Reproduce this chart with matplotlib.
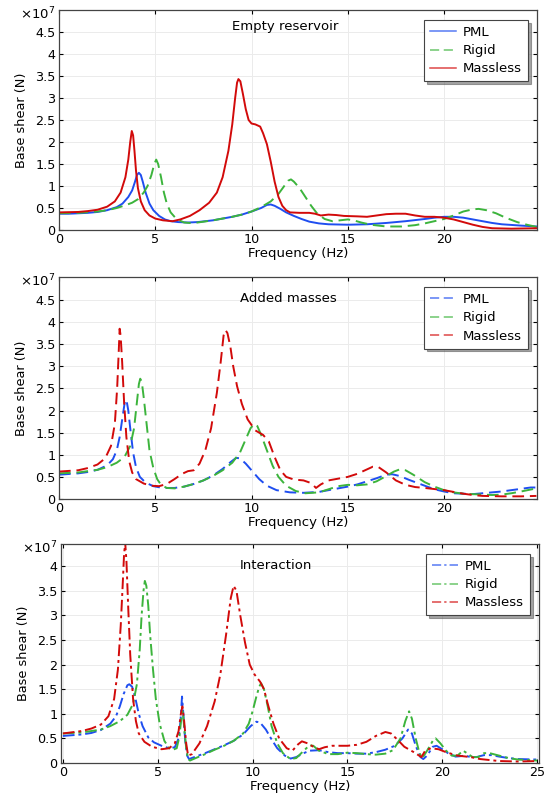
import matplotlib
matplotlib.use("Agg")
import matplotlib.pyplot as plt

plt.rcParams['font.family'] = ['DejaVu Sans']

# ---------------- data (units of 1e7 N) ----------------
# Panel 1: Empty reservoir
e_pml_f = [0, 0.5, 1, 1.5, 2, 2.5, 3, 3.3, 3.6, 3.8, 3.95, 4.05, 4.15, 4.25, 4.35, 4.5, 4.7, 4.9, 5.2, 5.5, 5.8, 6.2, 6.7, 7.2, 8, 9, 9.5, 10, 10.5, 10.8, 11, 11.2, 11.5, 11.8, 12.2, 12.6, 13, 13.5, 14, 15, 16, 17, 18, 19, 19.5, 20, 20.5, 21, 21.5, 22, 22.5, 23, 24, 24.8]
e_pml_v = [0.37, 0.37, 0.38, 0.39, 0.41, 0.45, 0.52, 0.6, 0.75, 0.9, 1.1, 1.25, 1.3, 1.25, 1.1, 0.85, 0.6, 0.45, 0.32, 0.24, 0.2, 0.18, 0.17, 0.18, 0.22, 0.3, 0.35, 0.42, 0.5, 0.57, 0.58, 0.55, 0.48, 0.4, 0.32, 0.25, 0.19, 0.15, 0.13, 0.12, 0.13, 0.16, 0.2, 0.25, 0.28, 0.3, 0.3, 0.28, 0.24, 0.2, 0.16, 0.13, 0.1, 0.08]
e_rig_f = [0, 1, 2, 2.5, 3, 3.5, 3.8, 4.1, 4.4, 4.6, 4.8, 4.95, 5.05, 5.15, 5.3, 5.45, 5.6, 5.8, 6.1, 6.5, 6.8, 7.2, 8, 9, 9.5, 10, 10.5, 11, 11.4, 11.7, 11.9, 12.05, 12.2, 12.5, 12.8, 13.1, 13.4, 13.8, 14.2, 14.6, 15, 15.3, 15.7, 16.2, 17, 17.8, 18.5, 19, 19.5, 20, 20.5, 21, 21.5, 21.8, 22.2, 22.7, 23.2, 23.8, 24.3, 24.8]
e_rig_v = [0.38, 0.39, 0.42, 0.45, 0.5, 0.57, 0.62, 0.7, 0.85, 1.0, 1.25, 1.5, 1.6, 1.5, 1.2, 0.85, 0.6, 0.4, 0.25, 0.17, 0.16, 0.17, 0.22, 0.3, 0.35, 0.42, 0.52, 0.65, 0.82, 1.0, 1.12, 1.15, 1.1, 0.95, 0.75, 0.55, 0.38, 0.25, 0.2, 0.22, 0.24, 0.22, 0.17, 0.12, 0.08, 0.08, 0.11, 0.15, 0.2, 0.25, 0.33, 0.42, 0.47, 0.48, 0.45, 0.38, 0.28, 0.18, 0.12, 0.07]
e_mas_f = [0, 1, 1.5, 2, 2.5, 2.9, 3.2, 3.45, 3.6, 3.7, 3.78, 3.85, 3.92, 4.0, 4.1, 4.25, 4.45, 4.7, 5.0, 5.4, 5.9, 6.3, 6.8, 7.3, 7.8, 8.2, 8.5, 8.8, 9.0, 9.15, 9.25, 9.32, 9.42, 9.55, 9.7, 9.85, 10.0, 10.2, 10.45, 10.6, 10.8, 11.0, 11.2, 11.4, 11.6, 11.8, 12.0, 12.5, 13, 13.3, 13.6, 14.0, 14.4, 14.8, 15.5, 16, 16.5, 17, 17.5, 18, 18.5, 19, 19.5, 20, 20.5, 21, 21.5, 22, 22.5, 23.5, 24.8]
e_mas_v = [0.4, 0.41, 0.43, 0.46, 0.53, 0.65, 0.85, 1.2, 1.6, 2.0, 2.25, 2.15, 1.8, 1.35, 0.95, 0.65, 0.45, 0.33, 0.26, 0.22, 0.2, 0.24, 0.32, 0.45, 0.62, 0.85, 1.2, 1.8, 2.4, 3.0, 3.35, 3.43, 3.38, 3.1, 2.75, 2.5, 2.42, 2.4, 2.35, 2.2, 1.95, 1.55, 1.1, 0.75, 0.55, 0.45, 0.4, 0.39, 0.39, 0.37, 0.33, 0.35, 0.34, 0.32, 0.31, 0.3, 0.33, 0.36, 0.37, 0.37, 0.33, 0.3, 0.3, 0.28, 0.24, 0.18, 0.12, 0.07, 0.04, 0.03, 0.04]

# Panel 2: Added masses
a_pml_f = [0, 1, 1.5, 2, 2.5, 2.8, 3.0, 3.15, 3.3, 3.42, 3.5, 3.6, 3.7, 3.85, 4.0, 4.2, 4.5, 4.9, 5.4, 6, 6.5, 7, 7.5, 8, 8.5, 8.9, 9.2, 9.4, 9.7, 10, 10.4, 10.8, 11.3, 12, 12.7, 13.5, 14, 15, 15.5, 16, 16.5, 17, 17.3, 17.7, 18.2, 19, 19.5, 20, 20.5, 21, 21.5, 22, 23, 24, 24.5, 24.8]
a_pml_v = [0.55, 0.58, 0.61, 0.66, 0.76, 0.9, 1.1, 1.4, 1.85, 2.2, 2.25, 2.0, 1.6, 1.05, 0.72, 0.5, 0.37, 0.29, 0.25, 0.25, 0.28, 0.34, 0.42, 0.53, 0.68, 0.83, 0.93, 0.92, 0.8, 0.65, 0.45, 0.3, 0.2, 0.15, 0.14, 0.16, 0.2, 0.28, 0.33, 0.4, 0.47, 0.55, 0.56, 0.52, 0.43, 0.3, 0.22, 0.17, 0.13, 0.12, 0.11, 0.13, 0.17, 0.23, 0.26, 0.26]
a_rig_f = [0, 1, 2, 2.5, 3, 3.4, 3.7, 3.9, 4.05, 4.15, 4.22, 4.3, 4.4, 4.55, 4.7, 4.9, 5.1, 5.3, 5.6, 6, 6.5, 7, 7.5, 8, 8.5, 9, 9.4, 9.7, 9.95, 10.15, 10.3, 10.5, 10.8, 11.1, 11.4, 11.8, 12.3, 12.8, 13.5, 14, 14.5, 15, 15.5, 16, 16.5, 17, 17.4, 17.7, 18, 18.4, 19, 19.5, 20, 20.5, 21, 22, 22.5, 23, 23.5, 24, 24.8]
a_rig_v = [0.58, 0.6, 0.66, 0.72, 0.82, 0.95, 1.2, 1.6, 2.2, 2.6, 2.72, 2.65, 2.3, 1.7, 1.1, 0.7, 0.45, 0.32, 0.25, 0.24, 0.28, 0.34, 0.42, 0.52, 0.65, 0.82, 1.05, 1.35, 1.6, 1.7, 1.65, 1.45, 1.1, 0.75, 0.5, 0.3, 0.18, 0.13, 0.15, 0.22, 0.29, 0.32, 0.31, 0.33, 0.4, 0.52, 0.62, 0.67, 0.65, 0.55, 0.38, 0.28, 0.2, 0.15, 0.12, 0.1, 0.09, 0.1, 0.13, 0.17, 0.24]
a_mas_f = [0, 1, 1.5, 2, 2.4, 2.7, 2.9, 3.02, 3.1, 3.15, 3.2, 3.28, 3.38, 3.5, 3.65, 3.8, 4, 4.4, 4.8, 5.2, 5.6, 6, 6.4, 6.7, 7, 7.3, 7.6, 7.9, 8.2, 8.4, 8.55, 8.65, 8.75, 8.9, 9.05, 9.25, 9.5, 9.8, 10.2, 10.6, 10.9, 11.2, 11.5, 11.8, 12.2, 12.7, 13.1, 13.35, 13.6, 14, 14.5, 15, 15.5, 16, 16.3, 16.6, 17, 17.5, 18, 18.5, 19, 20, 20.5, 21, 21.5, 22, 23, 24, 24.8]
a_mas_v = [0.62, 0.65, 0.7, 0.78, 0.92, 1.2, 1.7, 2.5, 3.3, 3.85, 3.7, 3.1, 2.2, 1.4, 0.85, 0.6, 0.45, 0.35, 0.3, 0.29, 0.34, 0.45, 0.57, 0.63, 0.65, 0.8, 1.1, 1.6, 2.4, 3.1, 3.7, 3.82, 3.75, 3.45, 3.0, 2.55, 2.15, 1.8, 1.55, 1.45, 1.3, 0.95, 0.65, 0.5, 0.44, 0.42, 0.36, 0.25, 0.33, 0.42, 0.46, 0.5, 0.57, 0.67, 0.73, 0.72, 0.6, 0.42, 0.32, 0.27, 0.25, 0.2, 0.16, 0.12, 0.09, 0.07, 0.06, 0.06, 0.07]

# Panel 3: Interaction
i_pml_f = [0, 1, 1.5, 2, 2.5, 2.8, 3.0, 3.2, 3.4, 3.5, 3.65, 3.8, 4.0, 4.2, 4.5, 4.8, 5.2, 5.6, 5.9, 6.1, 6.2, 6.28, 6.35, 6.45, 6.55, 6.65, 7, 7.5, 8, 8.5, 9, 9.5, 9.9, 10.2, 10.4, 10.7, 11, 11.3, 11.7, 12, 12.3, 12.7, 13, 13.5, 14, 14.5, 15, 15.5, 16, 16.5, 17, 17.5, 17.9, 18.2, 18.4, 18.6, 18.85, 19.0, 19.2, 19.5, 19.7, 20, 20.3, 20.7, 21, 21.2, 21.5, 21.8, 22.2, 22.6, 23, 23.5, 24, 25]
i_pml_v = [0.55, 0.58, 0.61, 0.67, 0.8, 0.95, 1.15, 1.4, 1.58, 1.6, 1.55, 1.35, 1.0, 0.75, 0.52, 0.42, 0.35, 0.3, 0.32, 0.5, 0.85, 1.35, 1.0, 0.45, 0.15, 0.08, 0.13, 0.2, 0.28, 0.36, 0.45, 0.58, 0.75, 0.84, 0.82, 0.68, 0.48, 0.3, 0.15, 0.09, 0.12, 0.2, 0.25, 0.26, 0.22, 0.2, 0.2, 0.19, 0.19, 0.22, 0.27, 0.35, 0.5, 0.68, 0.6, 0.35, 0.12, 0.08, 0.15, 0.33, 0.35, 0.28, 0.2, 0.13, 0.14, 0.15, 0.12, 0.12, 0.16, 0.16, 0.13, 0.1, 0.08, 0.07]
i_rig_f = [0, 1, 2, 2.5, 3, 3.4, 3.7, 3.9, 4.05, 4.15, 4.25, 4.32, 4.4, 4.5, 4.6, 4.75, 4.9, 5.1, 5.35, 5.6, 5.8, 6.0, 6.15, 6.25, 6.32, 6.4, 6.5, 6.6, 6.7, 7, 7.5, 8, 8.5, 9, 9.5, 9.8, 10.0, 10.2, 10.35, 10.45, 10.6, 10.8, 11, 11.3, 11.6, 12, 12.3, 12.7, 13, 13.2, 13.5, 14, 14.5, 15, 15.5, 16, 16.5, 17, 17.4, 17.8, 18.05, 18.25, 18.4, 18.6, 18.8, 18.95, 19.2, 19.5, 19.65, 19.9, 20.2, 20.5, 20.8, 21.1, 21.3, 21.6, 21.9, 22.2, 22.5, 23, 23.5, 24, 25]
i_rig_v = [0.6, 0.62, 0.68, 0.75, 0.85, 0.98, 1.2, 1.6, 2.3, 3.0, 3.5, 3.7, 3.6, 3.2, 2.6, 1.9, 1.3, 0.8, 0.45, 0.3, 0.27, 0.3, 0.55, 0.95, 1.05, 0.7, 0.3, 0.08, 0.05, 0.1, 0.18, 0.27, 0.35, 0.45, 0.6, 0.8, 1.05, 1.35, 1.55, 1.62, 1.5, 1.15, 0.75, 0.4, 0.2, 0.08, 0.1, 0.25, 0.36, 0.35, 0.25, 0.18, 0.18, 0.21, 0.2, 0.18, 0.17, 0.19, 0.26, 0.5, 0.85, 1.05, 0.9, 0.5, 0.2, 0.1, 0.25, 0.45, 0.5, 0.4, 0.25, 0.15, 0.15, 0.25, 0.2, 0.12, 0.12, 0.2, 0.2, 0.15, 0.1, 0.07, 0.05]
i_mas_f = [0, 1, 1.5, 2, 2.4, 2.7, 2.9, 3.05, 3.15, 3.22, 3.28, 3.35, 3.45, 3.55, 3.7, 3.85, 4.0, 4.3, 4.7, 5.2, 5.6, 5.9, 6.1, 6.22, 6.3, 6.38, 6.5, 6.6, 6.8, 7.2, 7.6, 8, 8.3, 8.6, 8.85, 9.0, 9.15, 9.35, 9.6, 9.85, 10.1, 10.4, 10.6, 10.8, 11.1, 11.4, 11.8, 12.1, 12.4, 12.6, 12.9, 13.2, 13.5, 13.8, 14.2, 15, 15.5, 16, 16.5, 17, 17.3, 17.7, 18, 18.5, 18.9, 19.1, 19.4, 19.8, 20.2, 20.8, 21.5, 22, 22.5, 23, 24, 25]
i_mas_v = [0.6, 0.65, 0.7, 0.78, 0.95, 1.3, 1.9, 2.8, 3.6, 4.2, 4.5, 4.1, 3.1, 2.2, 1.3, 0.85, 0.6, 0.43, 0.33, 0.28, 0.3, 0.4, 0.65, 1.0, 1.15, 0.9, 0.4, 0.15, 0.18, 0.4, 0.75, 1.25, 1.8, 2.6, 3.35, 3.6, 3.5, 3.0, 2.45, 2.0, 1.8, 1.65, 1.5, 1.2, 0.8, 0.5, 0.3, 0.25, 0.38, 0.44, 0.4, 0.33, 0.28, 0.32, 0.35, 0.35, 0.37, 0.43, 0.55, 0.63, 0.6, 0.45, 0.33, 0.22, 0.12, 0.25, 0.3, 0.28, 0.22, 0.15, 0.12, 0.08, 0.06, 0.04, 0.03, 0.04]

series_names = ["PML", "Rigid", "Massless"]
panel_titles = ["Empty reservoir", "Added masses", "Interaction"]
ytick_vals = [0, 0.5, 1, 1.5, 2, 2.5, 3, 3.5, 4, 4.5]
ytick_labels = ["0", "0.5", "1", "1.5", "2", "2.5", "3", "3.5", "4", "4.5"]

colors = ["#1f4ef0", "#3cb43c", "#d20a0a"]
dash = (0, (6, 3))
dashdot = (0, (6, 2, 1.5, 2))

panels = [
    [(e_pml_f, e_pml_v), (e_rig_f, e_rig_v), (e_mas_f, e_mas_v)],
    [(a_pml_f, a_pml_v), (a_rig_f, a_rig_v), (a_mas_f, a_mas_v)],
    [(i_pml_f, i_pml_v), (i_rig_f, i_rig_v), (i_mas_f, i_mas_v)],
]
panel_styles = [["-", dash, "-"], [dash] * 3, [dashdot] * 3]

fig = plt.figure(figsize=(5.48, 7.93), dpi=100)
rects = [
    [59 / 548, 1 - 230 / 793, 478 / 548, 220 / 793],
    [59 / 548, 1 - 499 / 793, 478 / 548, 222 / 793],
    [61 / 548, 1 - 763 / 793, 478 / 548, 219 / 793],
]
xlims = [(0, 24.83), (0, 24.83), (-0.1, 25.1)]
ylims = [(0, 5.0), (0, 5.02), (0, 4.45)]
xticks_list = [[0, 5, 10, 15, 20], [0, 5, 10, 15, 20], [0, 5, 10, 15, 20, 25]]
title_pos = [(0.473, 0.925), (0.48, 0.905), (0.45, 0.9)]

for k, series in enumerate(panels):
    ax = fig.add_axes(rects[k])
    for (f, v), ls, c, name in zip(series, panel_styles[k], colors, series_names):
        ax.plot(f, v, color=c, linestyle=ls, linewidth=1.4, label=name)
    ax.set_xlim(*xlims[k])
    ax.set_ylim(*ylims[k])
    ax.set_xticks(xticks_list[k])
    yt = [t for t in ytick_vals if t <= ylims[k][1]]
    ax.set_yticks(yt)
    ax.set_yticklabels(ytick_labels[:len(yt)])
    ax.grid(True, color="#ebebeb", linewidth=0.7)
    ax.set_axisbelow(True)
    ax.tick_params(direction="in", top=True, right=True, labelsize=9.2, length=3, pad=2.5)
    for s in ax.spines.values():
        s.set_linewidth(0.9)
        s.set_color("#444444")
    ax.set_xlabel("Frequency (Hz)", fontsize=9.5, labelpad=0.5)
    ax.set_ylabel("Base shear (N)", fontsize=9.3, labelpad=5)
    ax.text(-0.008, 1 - 4 / 220, r"$\times10^7$", transform=ax.transAxes,
            ha="right", va="center", fontsize=9.5)
    ax.text(title_pos[k][0], title_pos[k][1], panel_titles[k], transform=ax.transAxes,
            ha="center", va="center", fontsize=9.5)
    leg = ax.legend(loc="upper right", bbox_to_anchor=(1 - 9 / 478, 1 - 10 / 220),
                    borderaxespad=0, fontsize=9.5, frameon=True, fancybox=False, shadow=True,
                    handlelength=2.0, labelspacing=0.4, handletextpad=0.5, borderpad=0.45)
    leg.get_frame().set_edgecolor("#444444")
    leg.get_frame().set_linewidth(0.8)
    for h in leg.get_lines():
        h.set_linewidth(1.1)
        h.set_alpha(0.75)

fig.savefig("out.png", dpi=100)
